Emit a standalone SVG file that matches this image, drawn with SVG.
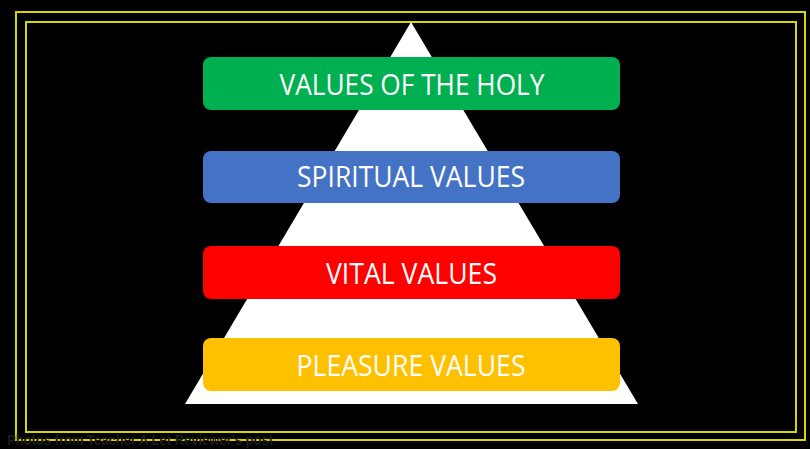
<svg xmlns="http://www.w3.org/2000/svg" width="810" height="449" viewBox="0 0 810 449">
  <style>
    .frame { fill: none; stroke: #d6d600; stroke-width: 2; }
    .bar { stroke: none; }
    .label { font-family: "Open Sans", "Liberation Sans", sans-serif; font-size: 29px; fill: #ffffff; text-anchor: middle; }
    .credit { font-family: "Liberation Sans", Arial, sans-serif; font-size: 14px; font-weight: bold; fill: #1c1c1c; }
  </style>
  <rect x="0" y="0" width="810" height="449" fill="#000000"/>
  <rect class="frame" x="16" y="12" width="789" height="428"/>
  <rect class="frame" x="26" y="22" width="770" height="410"/>
  <text class="credit" x="7" y="445" textLength="266" lengthAdjust="spacingAndGlyphs">Photos from Teacher A Let Reviewer's post</text>
  <g id="pyramid">
    <polygon points="411,22 638,404 185,404" fill="#ffffff"/>
  </g>
  <g id="connectors"></g>
  <g id="values-of-the-holy">
    <rect class="bar" x="203" y="57" width="417" height="53" rx="8" fill="#00b050"/>
    <text class="label" x="412" y="95" textLength="265" lengthAdjust="spacingAndGlyphs">VALUES OF THE HOLY</text>
  </g>
  <g id="spiritual-values">
    <rect class="bar" x="203" y="151" width="417" height="52" rx="8" fill="#4472c4"/>
    <text class="label" x="411" y="187" textLength="228" lengthAdjust="spacingAndGlyphs">SPIRITUAL VALUES</text>
  </g>
  <g id="vital-values">
    <rect class="bar" x="203" y="246" width="417" height="53" rx="8" fill="#ff0000"/>
    <text class="label" x="411.5" y="284" textLength="171" lengthAdjust="spacingAndGlyphs">VITAL VALUES</text>
  </g>
  <g id="pleasure-values">
    <rect class="bar" x="203" y="338" width="417" height="53" rx="8" fill="#ffc000"/>
    <text class="label" x="411" y="376" textLength="229" lengthAdjust="spacingAndGlyphs">PLEASURE VALUES</text>
  </g>
</svg>
